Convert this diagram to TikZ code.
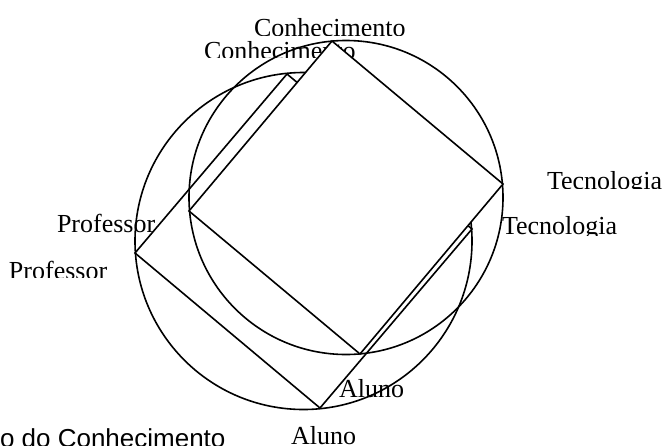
\documentclass[tikz,border=0pt]{standalone}
\usepackage{fontspec}
\setmainfont{Liberation Serif}
\newfontfamily\arialf{Liberation Sans}
\begin{document}
\begin{tikzpicture}[x=1pt,y=-1pt,
  shapeline/.style={draw=black, line width=1.6pt, line join=miter},
  lbl/.style={inner sep=0pt, outer sep=0pt, anchor=base west, font=\fontsize{26}{30}\selectfont},
  sanslbl/.style={inner sep=0pt, outer sep=0pt, anchor=base west, font=\arialf\fontsize{26}{30}\selectfont}]
\useasboundingbox (0,0) rectangle (667,445);
\clip (0,0) rectangle (667,445);

% labels (clipped at the bottom as in the reference)
\begin{scope}\clip (240,0) rectangle (430,35.5);
  \node[lbl] (conhA) at (254,36) {Conhecimento};\end{scope}
\begin{scope}\clip (190,30) rectangle (380,57.5);
  \node[lbl] (conhB) at (204,59) {Conhecimento};\end{scope}
\begin{scope}\clip (530,150) rectangle (667,188.5);
  \node[lbl] (tecA) at (547,189) {Tecnologia};\end{scope}
\begin{scope}\clip (490,200) rectangle (640,235.5);
  \node[lbl] (tecB) at (502,234) {Tecnologia};\end{scope}
\begin{scope}\clip (40,200) rectangle (170,232.5);
  \node[lbl] (profA) at (57,232) {Professor};\end{scope}
\begin{scope}\clip (0,245) rectangle (130,277.5);
  \node[lbl] (profB) at (9,279) {Professor};\end{scope}
\begin{scope}\clip (330,360) rectangle (420,397.5);
  \node[lbl] (alunoA) at (339,397) {Aluno};\end{scope}
\node[lbl] (alunoB) at (291,444) {Aluno};
\node[sanslbl] (titulo) at (0,447) {o do Conhecimento};

% circle 1 and its square
\coordinate (c1) at (303.5,241);
\coordinate (a1) at (135,253);
\coordinate (a2) at (287,74);
\coordinate (a3) at (472,229);
\coordinate (a4) at (320,408);
\draw[shapeline] (c1) circle[radius=168.5pt];
\draw[shapeline] (a1) -- (a2) -- (a3) -- (a4) -- cycle;

% circle 2 and its square (the square is filled white and hides what lies below)
\coordinate (c2) at (346,197.5);
\coordinate (b1) at (189,211);
\coordinate (b2) at (332,41);
\coordinate (b3) at (503,184);
\coordinate (b4) at (360,354);
\draw[shapeline] (c2) circle[radius=157pt];
\draw[shapeline, fill=white] (b1) -- (b2) -- (b3) -- (b4) -- cycle;
\end{tikzpicture}
\end{document}
